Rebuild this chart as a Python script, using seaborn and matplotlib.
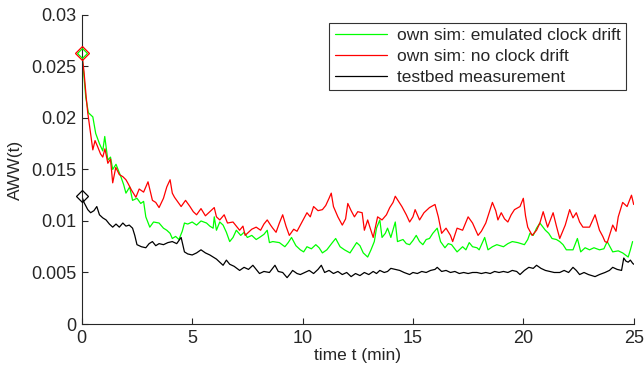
import numpy as np
import pandas as pd
import matplotlib
matplotlib.use('Agg')
import matplotlib.pyplot as plt
import seaborn as sns

# values
red_t = [0, 0.1, 0.2, 0.27, 0.4, 0.5, 0.6, 0.72, 0.85, 0.95, 1.05, 1.18, 1.3, 1.4, 1.54, 1.7, 1.86, 2.0, 2.08,
         2.25, 2.45, 2.6, 2.8, 3.0, 3.2, 3.35, 3.5, 3.7, 3.85, 4.0, 4.1, 4.2, 4.4, 4.5, 4.7, 4.9, 5.05, 5.2, 5.4,
         5.6, 5.8, 6.0, 6.1, 6.25, 6.45, 6.6, 6.85, 7.0, 7.15, 7.3, 7.4, 7.5, 7.7, 7.9, 8.1, 8.25, 8.4, 8.55, 8.65,
         8.8, 8.95, 9.1, 9.25, 9.4, 9.6, 9.75, 9.9, 10.05, 10.2, 10.35, 10.5, 10.7, 10.9, 11.05, 11.2, 11.3, 11.4,
         11.6, 11.8, 11.95, 12.05, 12.2, 12.35, 12.5, 12.7, 12.8, 12.95, 13.05, 13.2, 13.4, 13.6, 13.8, 13.95,
         14.1, 14.2, 14.35, 14.5, 14.7, 14.85, 15.0, 15.1, 15.3, 15.5, 15.75, 16.0, 16.15, 16.3, 16.5, 16.7, 16.8,
         17.0, 17.25, 17.5, 17.7, 17.95, 18.1, 18.3, 18.45, 18.6, 18.75, 18.85, 19.0, 19.15, 19.3, 19.45, 19.6,
         19.85, 20.0, 20.1, 20.2, 20.4, 20.6, 20.75, 20.9, 21.1, 21.35, 21.5, 21.65, 21.9, 22.1, 22.25, 22.4,
         22.55, 22.7, 23.0, 23.25, 23.45, 23.6, 23.7, 23.8, 24.05, 24.2, 24.3, 24.5, 24.7, 24.9, 25.0]
red_v = [0.0263, 0.0245, 0.022, 0.0205, 0.0185, 0.0169, 0.0178, 0.0172, 0.0165, 0.0162, 0.0170, 0.0156, 0.0160,
         0.0137, 0.0152, 0.0145, 0.0143, 0.0140, 0.0137, 0.0130, 0.0123, 0.0131, 0.0128, 0.0138, 0.0120, 0.0118,
         0.0113, 0.0122, 0.0133, 0.0140, 0.0127, 0.0123, 0.0117, 0.0114, 0.0120, 0.0114, 0.0109, 0.0106, 0.0112,
         0.0105, 0.0109, 0.0113, 0.0104, 0.0101, 0.0106, 0.0098, 0.0099, 0.0095, 0.0091, 0.0095, 0.0086, 0.0088,
         0.0092, 0.0094, 0.0091, 0.0097, 0.0101, 0.0096, 0.0093, 0.0089, 0.0098, 0.0106, 0.0095, 0.0086, 0.0092,
         0.0090, 0.0096, 0.0102, 0.0108, 0.0104, 0.0114, 0.0110, 0.0111, 0.0115, 0.0122, 0.0127, 0.0114, 0.0104,
         0.0096, 0.0102, 0.0117, 0.0110, 0.0104, 0.0109, 0.0108, 0.0091, 0.0101, 0.0094, 0.0084, 0.0104, 0.0101,
         0.0106, 0.0113, 0.0118, 0.0124, 0.0119, 0.0114, 0.0106, 0.0099, 0.0104, 0.0111, 0.0101, 0.0108, 0.0113,
         0.0116, 0.0104, 0.0088, 0.0093, 0.0086, 0.0080, 0.0093, 0.0091, 0.0104, 0.0098, 0.0086, 0.0090, 0.0098,
         0.0108, 0.0118, 0.0110, 0.0101, 0.0108, 0.0102, 0.0099, 0.0106, 0.0111, 0.0114, 0.0122, 0.0105, 0.0094,
         0.0086, 0.0091, 0.0098, 0.0109, 0.0094, 0.0108, 0.0095, 0.0083, 0.0096, 0.0111, 0.0103, 0.0108, 0.0099,
         0.0094, 0.0094, 0.0106, 0.0091, 0.0085, 0.0080, 0.0079, 0.0096, 0.0090, 0.0104, 0.0118, 0.0114, 0.0125,
         0.0116]

green_t = [0, 0.1, 0.18, 0.3, 0.5, 0.63, 0.8, 0.95, 1.04, 1.18, 1.3, 1.4, 1.55, 1.77, 1.9, 2.0, 2.17, 2.3, 2.5,
           2.67, 2.8, 2.9, 3.08, 3.25, 3.5, 3.7, 3.85, 4.0, 4.1, 4.25, 4.4, 4.55, 4.65, 4.8, 5.0, 5.2, 5.4, 5.65,
           5.8, 5.95, 6.0, 6.1, 6.25, 6.4, 6.55, 6.7, 6.85, 7.0, 7.2, 7.35, 7.5, 7.7, 7.9, 8.05, 8.25, 8.4, 8.5,
           8.65, 8.95, 9.2, 9.35, 9.5, 9.7, 9.9, 10.05, 10.2, 10.4, 10.6, 10.75, 10.9, 11.1, 11.35, 11.5, 11.7,
           11.9, 12.15, 12.3, 12.45, 12.6, 12.75, 12.95, 13.1, 13.25, 13.35, 13.5, 13.6, 13.75, 13.85, 14.0, 14.2,
           14.3, 14.55, 14.7, 14.85, 15.0, 15.15, 15.3, 15.45, 15.6, 15.75, 15.9, 16.1, 16.25, 16.45, 16.6, 16.75,
           17.0, 17.25, 17.4, 17.55, 17.7, 17.9, 18.0, 18.25, 18.4, 18.6, 18.8, 19.1, 19.3, 19.5, 19.75, 20.05,
           20.2, 20.3, 20.45, 20.6, 20.75, 21.0, 21.15, 21.3, 21.5, 21.65, 21.8, 21.95, 22.25, 22.45, 22.6, 22.8,
           23.0, 23.2, 23.45, 23.65, 23.8, 24.05, 24.3, 24.5, 24.75, 24.85, 24.95]
green_v = [0.0263, 0.0240, 0.0220, 0.0205, 0.0201, 0.0185, 0.0175, 0.0168, 0.0182, 0.0159, 0.0162, 0.0150,
           0.0155, 0.0143, 0.0135, 0.0127, 0.0133, 0.0120, 0.0122, 0.0117, 0.0119, 0.0104, 0.0094, 0.0099, 0.0098,
           0.0093, 0.0091, 0.0088, 0.0083, 0.0085, 0.0082, 0.0090, 0.0098, 0.0097, 0.0099, 0.0096, 0.0100, 0.0098,
           0.0095, 0.0093, 0.0104, 0.0091, 0.0099, 0.0096, 0.0089, 0.0080, 0.0084, 0.0091, 0.0086, 0.0089, 0.0084,
           0.0086, 0.0082, 0.0084, 0.0087, 0.0091, 0.0079, 0.0080, 0.0079, 0.0075, 0.0079, 0.0084, 0.0076, 0.0072,
           0.0070, 0.0075, 0.0073, 0.0077, 0.0074, 0.0069, 0.0072, 0.0079, 0.0083, 0.0075, 0.0072, 0.0069, 0.0074,
           0.0079, 0.0076, 0.0069, 0.0065, 0.0072, 0.0080, 0.0093, 0.0101, 0.0084, 0.0088, 0.0093, 0.0084, 0.0099,
           0.0080, 0.0082, 0.0078, 0.0077, 0.0081, 0.0086, 0.0080, 0.0077, 0.0082, 0.0083, 0.0088, 0.0093, 0.0080,
           0.0074, 0.0078, 0.0077, 0.0070, 0.0075, 0.0072, 0.0079, 0.0075, 0.0074, 0.0072, 0.0084, 0.0072, 0.0075,
           0.0077, 0.0075, 0.0078, 0.0080, 0.0079, 0.0077, 0.0082, 0.0088, 0.0086, 0.0093, 0.0098, 0.0091, 0.0088,
           0.0083, 0.0082, 0.0080, 0.0077, 0.0072, 0.0072, 0.0083, 0.0070, 0.0074, 0.0072, 0.0074, 0.0072, 0.0073,
           0.0080, 0.0070, 0.0071, 0.0069, 0.0065, 0.0072, 0.0080]

black_t = [0, 0.1, 0.27, 0.4, 0.55, 0.68, 0.8, 0.95, 1.1, 1.25, 1.4, 1.55, 1.7, 1.86, 2.0, 2.15, 2.3, 2.4, 2.5,
           2.7, 2.9, 3.05, 3.2, 3.35, 3.5, 3.7, 3.9, 4.1, 4.3, 4.5, 4.65, 4.8, 5.0, 5.2, 5.4, 5.6, 5.8, 5.95, 6.1,
           6.25, 6.4, 6.55, 6.7, 6.9, 7.15, 7.35, 7.55, 7.75, 7.9, 8.05, 8.25, 8.5, 8.75, 8.9, 9.1, 9.3, 9.45,
           9.55, 9.75, 9.9, 10.1, 10.3, 10.5, 10.7, 10.85, 11.0, 11.2, 11.4, 11.6, 11.8, 12.0, 12.2, 12.4, 12.6,
           12.8, 13.0, 13.2, 13.35, 13.5, 13.7, 13.85, 14.0, 14.2, 14.4, 14.6, 14.85, 15.0, 15.2, 15.4, 15.6, 15.8,
           16.0, 16.1, 16.3, 16.5, 16.7, 16.9, 17.1, 17.3, 17.5, 17.7, 17.9, 18.1, 18.3, 18.5, 18.7, 18.9, 19.1,
           19.3, 19.5, 19.7, 19.85, 20.05, 20.25, 20.45, 20.6, 20.8, 21.0, 21.2, 21.4, 21.65, 21.85, 22.05, 22.25,
           22.4, 22.55, 22.75, 22.95, 23.1, 23.25, 23.45, 23.7, 23.9, 24.05, 24.25, 24.45, 24.55, 24.65, 24.75,
           24.85, 24.95, 25.0]
black_v = [0.0124, 0.0118, 0.0111, 0.0108, 0.0110, 0.0114, 0.0106, 0.0103, 0.0101, 0.0097, 0.0094, 0.0097,
           0.0094, 0.0098, 0.0095, 0.0096, 0.0093, 0.0086, 0.0077, 0.0075, 0.0074, 0.0078, 0.0080, 0.0076, 0.0078,
           0.0077, 0.0079, 0.0080, 0.0078, 0.0084, 0.0070, 0.0068, 0.0067, 0.0069, 0.0072, 0.0069, 0.0067, 0.0065,
           0.0063, 0.0060, 0.0057, 0.0062, 0.0058, 0.0056, 0.0052, 0.0055, 0.0053, 0.0057, 0.0053, 0.0049, 0.0051,
           0.0050, 0.0057, 0.0051, 0.0050, 0.0045, 0.0049, 0.0052, 0.0049, 0.0048, 0.0050, 0.0052, 0.0049, 0.0053,
           0.0057, 0.0050, 0.0052, 0.0049, 0.0051, 0.0048, 0.0050, 0.0046, 0.0049, 0.0047, 0.0050, 0.0048, 0.0051,
           0.0049, 0.0052, 0.0050, 0.0051, 0.0054, 0.0053, 0.0052, 0.0050, 0.0048, 0.0050, 0.0049, 0.0051, 0.0050,
           0.0052, 0.0053, 0.0055, 0.0051, 0.0052, 0.0050, 0.0051, 0.0049, 0.0050, 0.0049, 0.0050, 0.0050, 0.0049,
           0.0050, 0.0049, 0.0051, 0.0050, 0.0051, 0.0050, 0.0052, 0.0051, 0.0048, 0.0052, 0.0055, 0.0054, 0.0057,
           0.0054, 0.0052, 0.0051, 0.0050, 0.0050, 0.0052, 0.0050, 0.0055, 0.0052, 0.0048, 0.0050, 0.0048, 0.0047,
           0.0046, 0.0048, 0.0050, 0.0052, 0.0055, 0.0053, 0.0052, 0.0064, 0.0061, 0.0060, 0.0062, 0.0059, 0.0058]

labels = ['own sim: emulated clock drift', 'own sim: no clock drift', 'testbed measurement']
colors = ['#00ff00', '#ff0000', '#000000']
marker_sizes = [5.5, 7, 6.5]

sns.set_style('ticks')
plt.rcParams['font.family'] = ['Liberation Sans', 'DejaVu Sans']

fig = plt.figure(figsize=(6.44, 3.72), dpi=100)
ax = fig.add_axes([0.127, 0.129, 0.857, 0.831])

series = [(green_t, green_v), (red_t, red_v), (black_t, black_v)]
for (t, v), lab, col, ms in zip(series, labels, colors, marker_sizes):
    df = pd.DataFrame({'t': t, 'v': v})
    sns.lineplot(data=df, x='t', y='v', ax=ax, color=col, lw=0.9, label=lab)
    # open diamond on the first sample
    ax.plot(t[0], v[0], marker='D', ms=ms, mfc='none', mec=col, mew=0.9,
            ls='none', clip_on=False, zorder=5)

ax.set_xlim(0, 25)
ax.set_ylim(0, 0.03)
ax.set_xticks([0, 5, 10, 15, 20, 25])
ax.set_yticks([0, 0.005, 0.01, 0.015, 0.02, 0.025, 0.03])
ax.set_yticklabels(['0', '0.005', '0.01', '0.015', '0.02', '0.025', '0.03'])
ax.tick_params(direction='in', length=4, labelsize=13, width=0.8, pad=4)
ax.set_xlabel('time t (min)', fontsize=12.5, labelpad=1)
ax.set_ylabel('AWW(t)', fontsize=12.5, labelpad=6)
for s in ['top', 'right']:
    ax.spines[s].set_visible(False)

leg = ax.legend(loc='upper right', bbox_to_anchor=(0.986, 0.974), borderaxespad=0, fontsize=12.5,
                frameon=True, fancybox=False, edgecolor='black', handlelength=3.0, borderpad=0.3,
                labelspacing=0.32, handletextpad=0.6)
leg.get_frame().set_linewidth(0.8)

fig.savefig('out.png', dpi=100)
